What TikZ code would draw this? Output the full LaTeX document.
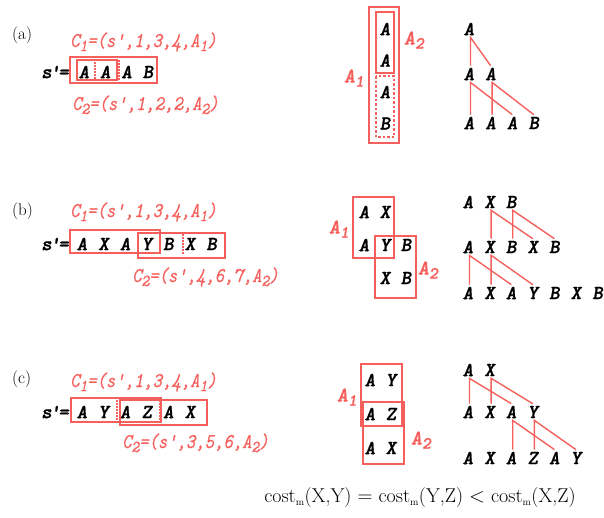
\documentclass[tikz,border=0pt]{standalone}
\usepackage{fontspec}
\newfontfamily\symfont[FakeBold=1.2]{lmmonolt10-boldoblique.otf}
\newfontfamily\labfont[FakeStretch=0.85,FakeBold=0.4]{lmmono10-italic.otf}
\usetikzlibrary{positioning}
\definecolor{boxred}{RGB}{246,96,92}
\newcommand{\lsub}[1]{\raisebox{-0.45ex}{\fontsize{17}{17}\selectfont #1}}

\tikzset{
  sym/.style={inner sep=2pt, font=\fontsize{20}{20}\selectfont\symfont},
  clabel/.style={text=boxred, inner sep=0pt, anchor=base west, font=\fontsize{21}{21}\selectfont\labfont},
  alabel/.style={text=boxred, inner sep=0pt, font=\fontsize{21}{21}\selectfont\symfont},
  tag/.style={inner sep=0pt, anchor=base west, font=\fontsize{17}{17}\selectfont},
  box/.style={draw=boxred, line width=1.4pt},
  sep/.style={draw=boxred, line width=1.2pt, dash pattern=on 1.5pt off 1.5pt},
  chunk/.style={draw=boxred, line width=1.4pt, dash pattern=on 2.5pt off 2pt},
  branch/.style={draw=boxred, line width=1.4pt},
}

\begin{document}
\begin{tikzpicture}[x=1pt,y=-1pt]
\useasboundingbox (0,0) rectangle (604,517);

% ---------- (a)
\node[tag] (taga) at (12,39) {(a)};
\node[clabel] (c1a) at (70,47) {C\lsub{1}=(s',1,3,4,A\lsub{1})};
\node[clabel] (c2a) at (72,110) {C\lsub{2}=(s',1,2,2,A\lsub{2})};
\node[sym] (sqa) at (55,72) {s\kern-2pt'\kern-2pt=};
\foreach \l [count=\i] in {A,A,A,B}
  \node[sym] (sa\i) at ({84+21.3*(\i-1)},72) {\l};
\draw[box] (70,57) rectangle (157,83);
\draw[box] (77,60) rectangle (117,80);
\draw[sep] (95,62) -- (95,79);
\draw[sep] (119,60) -- (119,81);

\foreach \l [count=\i] in {A,A,A,B}
  \node[sym] (ma\i) at (385,{29+31.5*(\i-1)}) {\l};
\draw[box] (369,7) rectangle (399,143);
\draw[box] (376,12) rectangle (394,73);
\draw[chunk] (376,76) rectangle (394,137);
\node[alabel] (a2a) at (414,40) {A\lsub{2}};
\node[alabel] (a1a) at (354,78) {A\lsub{1}};

\node[sym] (ta11) at (469,29) {A};
\foreach \l [count=\i] in {A,A}
  \node[sym] (ta2\i) at ({469+21.6*(\i-1)},74) {\l};
\foreach \l [count=\i] in {A,A,A,B}
  \node[sym] (ta3\i) at ({469+21.6*(\i-1)},123) {\l};
\foreach \p/\c/\d in {ta11/ta21/ta22, ta21/ta31/ta33, ta22/ta32/ta34}
  \draw[branch] ([xshift=1.5pt]\c.north) -- ([xshift=1.5pt]\p.south) -- (\d.north);

% ---------- (b)
\node[tag] (tagb) at (12,215) {(b)};
\node[clabel] (c1b) at (70,217) {C\lsub{1}=(s',1,3,4,A\lsub{1})};
\node[clabel] (c2b) at (132,282) {C\lsub{2}=(s',4,6,7,A\lsub{2})};
\node[sym] (sqb) at (55,244) {s\kern-2pt'\kern-2pt=};
\foreach \l [count=\i] in {A,X,A,Y,B,X,B}
  \node[sym] (sb\i) at ({82+21.6*(\i-1)},244) {\l};
\draw[box] (70,230) rectangle (160,253);
\draw[box] (138,233) rectangle (225,258);
\draw[sep] (183,234) -- (183,255);

\node[sym] (mb1) at (364,212) {A};
\node[sym] (mb2) at (385,212) {X};
\node[sym] (mb3) at (364,245) {A};
\node[sym] (mb4) at (385,245) {Y};
\node[sym] (mb5) at (406,245) {B};
\node[sym] (mb6) at (385,278) {X};
\node[sym] (mb7) at (406,278) {B};
\draw[box] (353,197) rectangle (394,258);
\draw[box] (375,236) rectangle (416,298);
\node[alabel] (a1b) at (339,229) {A\lsub{1}};
\node[alabel] (a2b) at (428,270) {A\lsub{2}};

\foreach \l [count=\i] in {A,X,B}
  \node[sym] (tb1\i) at ({468+21.6*(\i-1)},202) {\l};
\foreach \l [count=\i] in {A,X,B,X,B}
  \node[sym] (tb2\i) at ({468+21.6*(\i-1)},247) {\l};
\foreach \l [count=\i] in {A,X,A,Y,B,X,B}
  \node[sym] (tb3\i) at ({468+21.6*(\i-1)},293) {\l};
\foreach \p/\c/\d in {tb12/tb22/tb24, tb13/tb23/tb25, tb21/tb31/tb33, tb22/tb32/tb34}
  \draw[branch] ([xshift=1.5pt]\c.north) -- ([xshift=1.5pt]\p.south) -- (\d.north);

% ---------- (c)
\node[tag] (tagc) at (12,383) {(c)};
\node[clabel] (c1c) at (70,387) {C\lsub{1}=(s',1,3,4,A\lsub{1})};
\node[clabel] (c2c) at (122,448) {C\lsub{2}=(s',3,5,6,A\lsub{2})};
\node[sym] (sqc) at (55,412) {s\kern-2pt'\kern-2pt=};
\foreach \l [count=\i] in {A,Y,A,Z,A,X}
  \node[sym] (sc\i) at ({82+21.6*(\i-1)},412) {\l};
\draw[box] (71,398) rectangle (161,422);
\draw[box] (120,400) rectangle (207,425);
\draw[sep] (117,400) -- (117,421);
\draw[sep] (160,400) -- (160,421);

\node[sym] (mc1) at (370,380) {A};
\node[sym] (mc2) at (391,380) {Y};
\node[sym] (mc3) at (370,414) {A};
\node[sym] (mc4) at (391,414) {Z};
\node[sym] (mc5) at (370,448) {A};
\node[sym] (mc6) at (391,448) {X};
\draw[box] (361,364) rectangle (402,426);
\draw[box] (363,402) rectangle (404,464);
\node[alabel] (a1c) at (347,397) {A\lsub{1}};
\node[alabel] (a2c) at (421,440) {A\lsub{2}};

\foreach \l [count=\i] in {A,X}
  \node[sym] (tc1\i) at ({468+21.6*(\i-1)},370) {\l};
\foreach \l [count=\i] in {A,X,A,Y}
  \node[sym] (tc2\i) at ({468+21.6*(\i-1)},412) {\l};
\foreach \l [count=\i] in {A,X,A,Z,A,Y}
  \node[sym] (tc3\i) at ({468+21.6*(\i-1)},458) {\l};
\foreach \p/\c/\d in {tc11/tc21/tc23, tc12/tc22/tc24, tc23/tc33/tc35, tc24/tc34/tc36}
  \draw[branch] ([xshift=1.5pt]\c.north) -- ([xshift=1.5pt]\p.south) -- (\d.north);

% ---------- cost
\node[inner sep=0pt, font=\fontsize{20}{20}\selectfont] (cost) at (420,497)
  {cost$_{\scriptscriptstyle\mathrm{m}}$(X,Y) $=$ cost$_{\scriptscriptstyle\mathrm{m}}$(Y,Z) $<$ cost$_{\scriptscriptstyle\mathrm{m}}$(X,Z)};
\end{tikzpicture}
\end{document}
